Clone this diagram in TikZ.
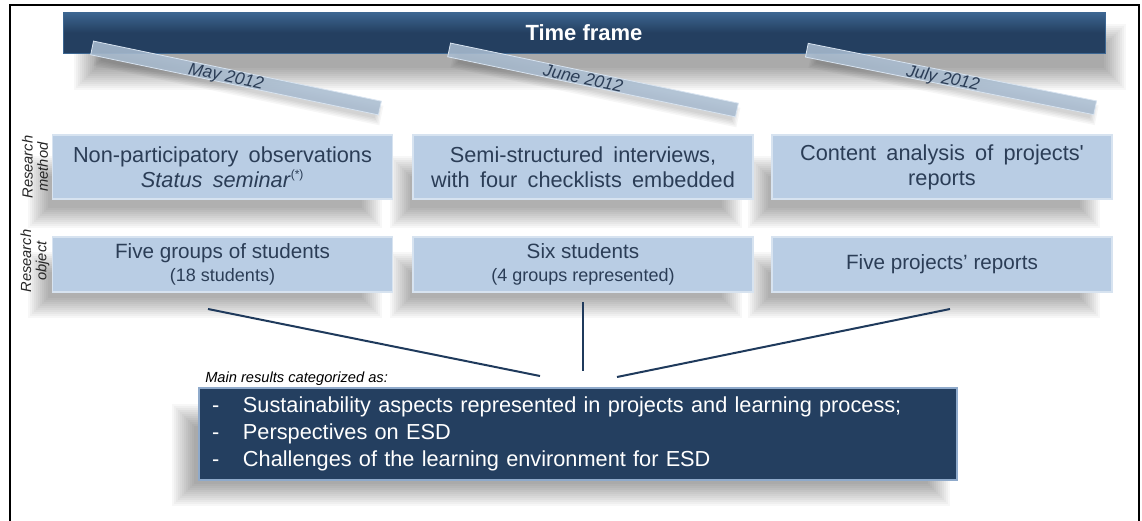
\documentclass[tikz,border=0pt]{standalone}
\usepackage{fontspec}
\setmainfont{Liberation Sans}
\newfontfamily\widefont{Liberation Sans}[WordSpace=1.7]
\definecolor{navy}{HTML}{243F60}
\definecolor{navytop}{HTML}{3D6792}
\definecolor{boxfill}{HTML}{B9CDE4}
\definecolor{boxedge}{HTML}{D7E3F0}
\definecolor{boxtext}{HTML}{2B3D56}
\definecolor{barfill}{HTML}{A9BCD0}
\definecolor{lineblue}{HTML}{1F3A5C}
\definecolor{navyedge}{HTML}{8FAACB}
% soft shadow: x1 y1 x2 y2 (px), steps
\newcommand\mysoftshadow[5]{%
  \foreach \k in {0,...,#5}{%
    \fill[black, fill opacity=0.032] ({#1+2*\k},{#2+2*\k}) rectangle ({#3-2*\k},{#4-2*\k});}}
\begin{document}
\begin{tikzpicture}[x=0.75pt,y=-0.75pt,
  frameline/.style={black, line width=1.2pt},
  titlebar/.style={rectangle, top color=navytop, bottom color=navy, middle color=navy,
    draw=navytop, line width=0.6pt, minimum width=781.5pt, minimum height=30.75pt,
    text=white, font=\bfseries\fontsize{16.5}{20}\selectfont},
  datebar/.style={rectangle, fill=barfill, fill opacity=0.88, text opacity=1,
    draw=boxedge, line width=0.6pt, minimum width=220.5pt, minimum height=10.5pt,
    inner sep=0pt, text=boxtext, font=\itshape\fontsize{13}{13}\selectfont},
  mbox/.style={rectangle, fill=boxfill, draw=boxedge, line width=1pt,
    minimum width=255pt, minimum height=48pt, inner sep=2pt, text=boxtext, align=center,
    font=\widefont\fontsize{16.3}{18.75}\selectfont},
  obox/.style={mbox, minimum height=41.25pt, font=\fontsize{15.5}{17}\selectfont},
  sidelabel/.style={rotate=90, align=center, text=black!85,
    font=\itshape\fontsize{11}{11.5}\selectfont, inner sep=0pt},
  resbox/.style={rectangle, fill=navy, draw=navyedge, line width=1pt,
    minimum width=568.5pt, minimum height=69pt, inner xsep=9.75pt, text width=549pt,
    align=left, text=white, font=\widefont\fontsize{16.3}{20.25}\selectfont},
  conn/.style={lineblue, line width=1.5pt},
  note/.style={font=\itshape\fontsize{11}{13}\selectfont, text=black, inner sep=0pt}
]
\useasboundingbox (0,0) rectangle (1142,521);
\fill[white] (0,0) rectangle (1142,521);
\draw[frameline] (10,521) -- (10,5) -- (1139,5) -- (1139,521);

% shadows
\mysoftshadow{74}{24}{1126}{90}{11}
\mysoftshadow{28}{156}{382}{228}{10}
\mysoftshadow{390}{156}{742}{228}{10}
\mysoftshadow{748}{156}{1100}{228}{10}
\mysoftshadow{28}{252}{382}{318}{10}
\mysoftshadow{390}{252}{742}{318}{10}
\mysoftshadow{748}{252}{1100}{318}{10}
\mysoftshadow{172}{404}{950}{506}{11}

% title bar
\node[titlebar] (title) at (584,32.5) {Time frame};

% date bar shadows
\foreach \cx/\cy/\ang in {236/78/-11.8, 593/80/-11.8, 951/79/-11.3}{
  \begin{scope}[shift={(\cx,\cy)}, rotate=\ang]
    \foreach \k in {0,...,4}{
      \fill[black, fill opacity=0.035] ({-142+1.5*\k},{-3+1.5*\k}) rectangle ({150-1.5*\k},{17-1.5*\k});}
  \end{scope}}

% date bars
\node[datebar, rotate=-11.8] (may) at (236,78) {\raisebox{-4.5pt}[0pt][0pt]{May 2012\hspace{15pt}}};
\node[datebar, rotate=-11.8] (june) at (593,80) {\raisebox{-4.5pt}[0pt][0pt]{June 2012\hspace{15pt}}};
\node[datebar, rotate=-11.3] (july) at (951,79) {\raisebox{-4.5pt}[0pt][0pt]{July 2012\hspace{12pt}}};

% side labels
\node[sidelabel] (lmethod) at (35,167) {Research\\method};
\node[sidelabel] (lobject) at (35,261) {Research\\object};

% method boxes
\node[mbox] (m1) at (222.5,167) {Non-participatory observations\\\textit{Status seminar}\textsuperscript{\fontsize{9}{9}\selectfont(*)}};
\node[mbox] (m2) at (583,167) {Semi-structured interviews,\\with four checklists embedded};
\node[mbox] (m3) at (942,167) {Content analysis of projects'\\reports};

% object boxes
\node[obox] (o1) at (222.5,264.5) {Five groups of students\\{\fontsize{13.5}{15}\selectfont (18 students)}};
\node[obox] (o2) at (583,264.5) {Six students\\{\fontsize{13.5}{15}\selectfont (4 groups represented)}};
\node[obox] (o3) at (942,264.5) {Five projects' reports};

% connectors
\coordinate (c1a) at (208,309);
\coordinate (c1b) at (540,376);
\coordinate (c2a) at (583,302);
\coordinate (c2b) at (583,371);
\coordinate (c3a) at (950,309);
\coordinate (c3b) at (617,377);
\draw[conn] (c1a) -- (c1b);
\draw[conn] (c2a) -- (c2b);
\draw[conn] (c3a) -- (c3b);

% results
\node[note, anchor=base west] (mainres) at (205,382) {Main results categorized as:};
\node[resbox] (res) at (578,434) {%
\makebox[23.25pt][l]{-}Sustainability aspects represented in projects and learning process;\\
\makebox[23.25pt][l]{-}Perspectives on ESD\\
\makebox[23.25pt][l]{-}Challenges of the learning environment for ESD};
\end{tikzpicture}
\end{document}
